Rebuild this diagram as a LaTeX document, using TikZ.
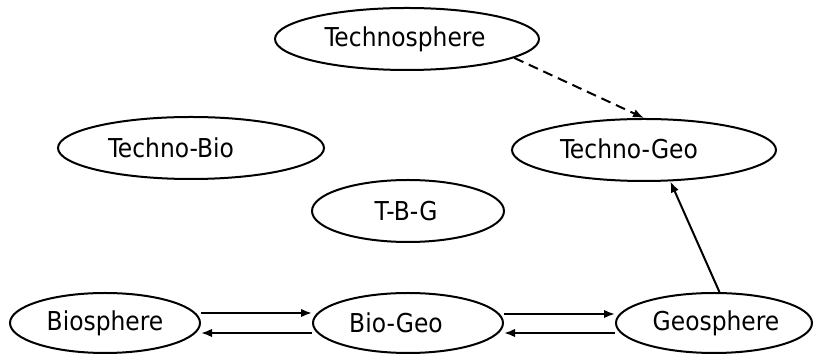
\documentclass[tikz,border=0pt]{standalone}
\usepackage{fontspec}
\setmainfont{DejaVu Sans Condensed}
\usetikzlibrary{arrows.meta,shapes.geometric}
\begin{document}
\begin{tikzpicture}[x=1pt,y=1pt,
  sphere/.style={ellipse,draw,line width=2pt,inner sep=0pt},
  caption/.style={inner sep=0pt,font=\fontsize{26}{29}\selectfont},
  flow/.style={line width=2pt,-{Latex[length=11pt,width=8.5pt]}}]
\useasboundingbox (0,0) rectangle (814,355);
% upper row
\node[sphere,minimum width=264pt,minimum height=62pt] (tsph) at (407,316) {};
% middle rows
\node[sphere,minimum width=266pt,minimum height=62pt] (tbio) at (191,207) {};
\node[sphere,minimum width=264pt,minimum height=62pt] (tgeo) at (644,205) {};
\node[sphere,minimum width=192pt,minimum height=62pt] (tbg)  at (408,144) {};
% lower row
\node[sphere,minimum width=190pt,minimum height=60pt] (bios) at (105,32) {};
\node[sphere,minimum width=190pt,minimum height=60pt] (biog) at (408,32) {};
\node[sphere,minimum width=196pt,minimum height=60pt] (geos) at (714,32) {};
% names inside the ellipses
\node[caption] (tsph-t) at ([xshift=-2pt]tsph.center) {Technosphere};
\node[caption] (tbio-t) at ([xshift=-20pt]tbio.center) {Techno-Bio};
\node[caption] (tgeo-t) at ([xshift=-15pt,yshift=1pt]tgeo.center) {Techno-Geo};
\node[caption] (tbg-t)  at ([xshift=-2pt]tbg.center) {T-B-G};
\node[caption] (bios-t) at (bios.center) {Biosphere};
\node[caption] (biog-t) at ([xshift=-12pt]biog.center) {Bio-Geo};
\node[caption] (geos-t) at ([xshift=2pt]geos.center) {Geosphere};
% exchanges along the lower row
\draw[flow] ([yshift=10pt]bios.east) -- ([yshift=10pt]biog.west);
\draw[flow] ([yshift=-10pt]biog.west) -- ([yshift=-10pt]bios.east);
\draw[flow] ([yshift=9pt]biog.east) -- ([yshift=9pt]geos.west);
\draw[flow] ([yshift=-10pt]geos.west) -- ([yshift=-10pt]biog.east);
% links towards Techno-Geo
\draw[flow] (geos.80) -- (tgeo.-50);
\draw[flow,dash pattern=on 10pt off 6pt] (tsph.-10) -- (tgeo.north);
\end{tikzpicture}
\end{document}
